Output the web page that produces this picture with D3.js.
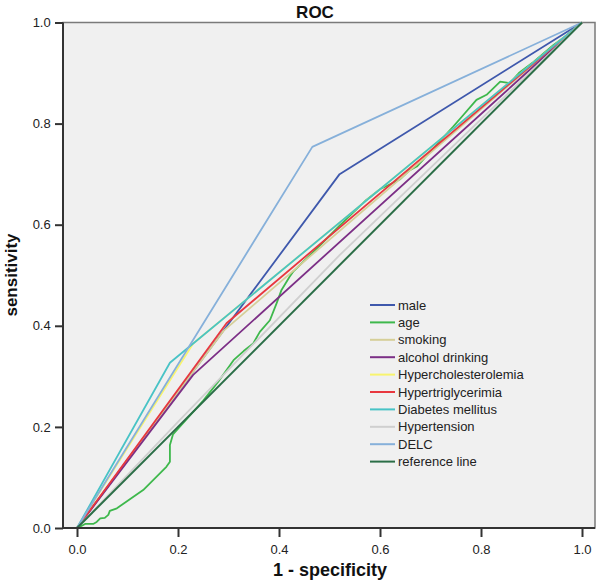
<!DOCTYPE html>
<html><head><meta charset="utf-8">
<script src="https://cdn.jsdelivr.net/npm/d3@7"></script>
<style>body{margin:0;background:#fff}svg{display:block}</style>
</head><body>
<svg id="chart" width="600" height="583"></svg>
<script>
const seriesNames = ["male","age","smoking","alcohol drinking","Hypercholesterolemia","Hypertriglycerimia","Diabetes mellitus","Hypertension","DELC","reference line"];
const seriesColors = ["#3e58ac","#3eb84c","#d6cf98","#7c2f86","#f8f46e","#e8373f","#48c3c6","#cfcfcf","#86b0da","#2b6e47"];
const male = [[0,0],[0.52,0.70],[1,1]];
const age = [[0,0],[0.003,0.001],[0.016,0.008],[0.032,0.008],[0.039,0.012],[0.046,0.019],[0.055,0.02],[0.062,0.026],[0.065,0.034],[0.079,0.039],[0.131,0.075],[0.177,0.121],[0.184,0.131],[0.184,0.164],[0.19,0.185],[0.25,0.252],[0.28,0.29],[0.31,0.332],[0.33,0.35],[0.349,0.365],[0.362,0.388],[0.382,0.411],[0.395,0.444],[0.405,0.471],[0.421,0.497],[0.428,0.507],[0.47,0.548],[0.52,0.598],[0.573,0.649],[0.6,0.67],[0.64,0.69],[0.659,0.708],[0.673,0.715],[0.7,0.745],[0.745,0.794],[0.765,0.817],[0.791,0.847],[0.811,0.857],[0.838,0.883],[0.857,0.88],[0.875,0.9],[0.904,0.922],[0.943,0.955],[0.97,0.975],[1,1]];
const smoking = [[0,0],[0.29,0.39],[1,1]];
const alcohol = [[0,0],[0.23,0.303],[1,1]];
const hyperchol = [[0,0],[0.23,0.365],[1,1]];
const hypertrig = [[0,0],[0.296,0.405],[1,1]];
const diabetes = [[0,0],[0.184,0.327],[1,1]];
const hypertension = [[0,0],[0.2,0.21],[0.52,0.54],[1,1]];
const delc = [[0,0],[0.466,0.754],[1,1]];
const reference = [[0,0],[1,1]];
const seriesData = [male, age, smoking, alcohol, hyperchol, hypertrig, diabetes, hypertension, delc, reference];
const ticks = [0,0.2,0.4,0.6,0.8,1.0];

const svg = d3.select("#chart");
const x = d3.scaleLinear().domain([0,1]).range([77,582]);
const y = d3.scaleLinear().domain([0,1]).range([528,22.5]);
const pLeft = 63, pRight = 595, pTop = 22.5, pBottom = 528;

svg.append("rect").attr("x",pLeft).attr("y",pTop).attr("width",pRight-pLeft).attr("height",pBottom-pTop)
  .attr("fill","#f0f0f0").attr("stroke","#7a7a7a").attr("stroke-width",1.5);

const line = d3.line().x(d=>x(d[0])).y(d=>y(d[1]));
seriesData.forEach((s,i)=>{
  svg.append("path").attr("d",line(s)).attr("fill","none")
    .attr("stroke",seriesColors[i]).attr("stroke-width",i===9?2:1.8).attr("stroke-linejoin","round");
});

// axes
const xAxis = d3.axisBottom(x).tickValues(ticks).tickFormat(d3.format(".1f")).tickSize(9).tickSizeOuter(0);
const gx = svg.append("g").attr("transform",`translate(0,${pBottom})`).call(xAxis);
gx.select(".domain").remove();
gx.append("line").attr("x1",pLeft).attr("x2",pRight).attr("stroke","#333").attr("stroke-width",2);
const yAxis = d3.axisLeft(y).tickValues(ticks).tickFormat(d3.format(".1f")).tickSize(8).tickSizeOuter(0);
const gy = svg.append("g").attr("transform",`translate(${pLeft},0)`).call(yAxis);
gy.select(".domain").remove();
gy.append("line").attr("y1",pTop).attr("y2",pBottom).attr("stroke","#333").attr("stroke-width",2);
[gx,gy].forEach(g=>{
  g.selectAll(".tick line").attr("stroke","#333").attr("stroke-width",2);
  g.selectAll(".tick text").attr("fill","#222").style("font-family","'Liberation Sans',Arial,sans-serif").style("font-size","13px");
});
gx.selectAll(".tick text").attr("dy","1.05em");
gy.selectAll(".tick text").attr("dx","-0.1em");

// titles
svg.append("text").attr("x",315).attr("y",18).attr("text-anchor","middle")
  .style("font-family","'Liberation Sans',Arial,sans-serif").style("font-weight","bold").style("font-size","17px").attr("fill","#111").text("ROC");
svg.append("text").attr("x",330).attr("y",576).attr("text-anchor","middle")
  .style("font-family","'Liberation Sans',Arial,sans-serif").style("font-weight","bold").style("font-size","18px").attr("fill","#111").text("1 - specificity");
svg.append("text").attr("transform","translate(17,275) rotate(-90)").attr("text-anchor","middle")
  .style("font-family","'Liberation Sans',Arial,sans-serif").style("font-weight","bold").style("font-size","17px").attr("fill","#111").text("sensitivity");

// legend
const lg = svg.append("g");
seriesNames.forEach((n,i)=>{
  const yy = 305 + i*17.4;
  lg.append("line").attr("x1",370).attr("x2",395).attr("y1",yy).attr("y2",yy)
    .attr("stroke",seriesColors[i]).attr("stroke-width",2);
  lg.append("text").attr("x",398).attr("y",yy).attr("dy","0.35em")
    .style("font-family","'Liberation Sans',Arial,sans-serif").style("font-size","13px").attr("fill","#222").text(n);
});
</script>
</body></html>
